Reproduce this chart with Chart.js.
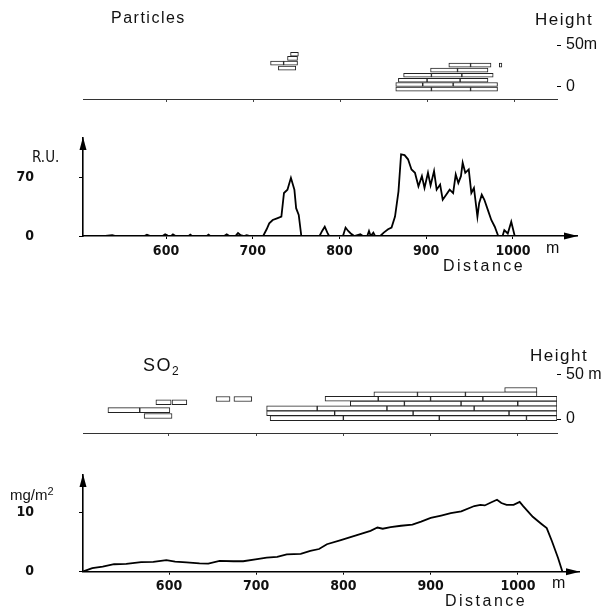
<!DOCTYPE html>
<html>
<head>
<meta charset="utf-8">
<script src="https://cdn.jsdelivr.net/npm/chart.js@4.4.1/dist/chart.umd.min.js"></script>
<style>
  body { margin: 0; background: #fff; }
  #page { position: relative; width: 610px; height: 609px; overflow: hidden;
          font-family: 'Liberation Sans', Arial, sans-serif; color: #111; }
  .box { position: absolute; left: 0; width: 610px; }
  .lbl { position: absolute; white-space: nowrap; line-height: 1; }
  .narrow { font-family: 'Liberation Sans Narrow', 'DejaVu Sans Condensed', 'Liberation Sans', sans-serif; }
</style>
</head>
<body>
<div id="page">
  <div class="box" style="top:0;height:110px"><canvas id="partStrip"></canvas></div>
  <div class="box" style="top:120px;height:160px"><canvas id="partChart"></canvas></div>
  <div class="box" style="top:340px;height:100px"><canvas id="so2Strip"></canvas></div>
  <div class="box" style="top:460px;height:149px"><canvas id="so2Chart"></canvas></div>

  <div class="lbl" style="left:111px;top:10px;font-size:16px;letter-spacing:1.5px">Particles</div>
  <div class="lbl" style="left:535px;top:11px;font-size:17px;letter-spacing:1.5px">Height</div>
  <div class="lbl narrow" style="left:32px;top:150px;font-size:15px">R.U.</div>
  <div class="lbl" style="left:546px;top:240px;font-size:16px">m</div>
  <div class="lbl" style="left:443px;top:258px;font-size:16px;letter-spacing:2.5px">Distance</div>

  <div class="lbl" style="left:143px;top:356px;font-size:18px;letter-spacing:1.5px">SO<sub style="font-size:12px;vertical-align:-4px">2</sub></div>
  <div class="lbl" style="left:530px;top:347px;font-size:17px;letter-spacing:1.5px">Height</div>
  <div class="lbl" style="left:10px;top:486px;font-size:15px">mg/m<sup style="font-size:11px;vertical-align:5px">2</sup></div>
  <div class="lbl" style="left:552px;top:575px;font-size:16px">m</div>
  <div class="lbl" style="left:445px;top:593px;font-size:16px;letter-spacing:2.5px">Distance</div>
</div>

<script>
const distTicks = [600, 700, 800, 900, 1000];

// particles (relative units) along the traverse, distance in m
const partDist = [505, 530, 538, 542, 575, 578, 582, 596, 599, 602, 606, 608, 611, 626, 628, 630,
  647, 649, 651, 667, 670, 673, 680, 683, 686, 690, 693, 697, 712, 716, 719, 723, 728, 733, 736,
  740, 744, 748, 750, 753, 756, 777, 780, 783, 786, 788, 804, 807, 810, 813, 817, 824, 827, 832,
  834, 836, 839, 841, 847, 851, 856, 860, 864, 868, 871, 875, 879, 883, 887, 891, 895, 898, 902,
  905, 909, 912, 916, 919, 923, 927, 931, 934, 937, 940, 942, 945, 949, 952, 955, 959, 961, 964,
  967, 971, 975, 979, 983, 988, 990, 994, 998, 1002, 1074];
const partVal = [0, 0, 1, 0, 0, 1.5, 0, 0, 2, 0.5, 0, 2, 0, 0, 1.5, 0,
  0, 1.5, 0, 0, 2, 0, 0, 3.5, 1, 0, 1, 0, 0, 8, 15, 19, 21, 23, 51,
  55, 69, 55, 33, 25, 0, 0, 6, 11, 4, 0, 0, 10, 6, 3, 0, 2, 0, 0,
  6, 0, 4, 0, 0, 4, 8, 10, 23, 53, 97, 96, 91, 79, 75, 59, 71, 57, 75,
  60, 77, 55, 61, 43, 49, 55, 51, 73, 63, 71, 87, 75, 79, 51, 57, 23, 39, 49,
  43, 31, 19, 11, 0, 0, 7, 3, 17, 0, 0];
const partYTicks = [0, 70];

// SO2 (mg/m2) along the traverse
const so2Dist = [501, 512, 524, 537, 551, 568, 582, 597, 607, 620, 635, 645, 658, 674, 685, 701,
  712, 724, 735, 751, 762, 772, 781, 797, 808, 820, 831, 839, 845, 854, 866, 879, 889, 900, 912,
  923, 935, 950, 957, 962, 969, 976, 981, 987, 995, 1002, 1006, 1017, 1027, 1033, 1039, 1046, 1051];
const so2Val = [0, 0.6, 0.85, 1.25, 1.3, 1.6, 1.65, 1.95, 1.7, 1.55, 1.4, 1.35, 1.8, 1.75, 1.75, 2.1,
  2.35, 2.5, 2.9, 3.0, 3.5, 3.8, 4.6, 5.3, 5.8, 6.35, 6.85, 7.4, 7.2, 7.45, 7.7, 7.9, 8.4, 9.0, 9.4,
  9.8, 10.1, 11.0, 11.2, 11.1, 11.6, 12.05, 11.5, 11.2, 11.2, 11.7, 11.0, 9.2, 8.0, 7.3, 5.1, 2.3, 0];
const so2YTicks = [0, 10];

// plume boxes in the height strips: start, end (m) and height (m)
const partBoxStart = [743, 739.5, 720, 735, 729,
  925, 950, 983, 904, 935, 873, 905, 940, 867, 900, 938, 864, 895, 930, 864, 905, 950];
const partBoxEnd = [752, 751, 735, 751, 749,
  950, 973.5, 986, 935, 970, 905, 940, 976, 900, 938, 970, 895, 930, 981, 905, 950, 981];
const partBoxHeight = [39, 34, 28.5, 28.5, 22.5,
  26, 26, 26, 20, 20, 14, 14, 14, 8, 8, 8, 3, 3, 3, -2.5, -2.5, -2.5];

const so2BoxStart = [585, 603.5, 530, 566.5, 571.5, 654, 674.5,
  985, 835, 885, 940, 779, 840, 900, 960, 808, 870, 935, 1000,
  712, 770, 850, 950, 712, 790, 880, 990, 716, 800, 910, 1010];
const so2BoxEnd = [602.5, 620.5, 566.5, 601, 603.5, 670, 695,
  1022, 885, 940, 1022, 840, 900, 960, 1045, 870, 935, 1000, 1045,
  770, 850, 950, 1045, 790, 880, 990, 1045, 800, 910, 1010, 1045];
const so2BoxHeight = [19, 19, 10, 10, 3.4, 22.7, 22.7,
  33, 28, 28, 28, 23, 23, 23, 23, 17.5, 17.5, 17.5, 17.5,
  12, 12, 12, 12, 6.5, 6.5, 6.5, 6.5, 1, 1, 1, 1];

const heightTicks = [0, 50];
const partHeightLabels = ['0', '50m'];
const so2HeightLabels = ['0', '50 m'];

const tickFont = { family: "'Liberation Sans Narrow', 'DejaVu Sans Condensed', 'Liberation Sans', sans-serif", weight: 'bold', size: 14 };
const plainFont = { family: "'Liberation Sans', Arial, sans-serif", size: 16 };

// arrow heads on the axis ends
const arrows = {
  id: 'arrows',
  afterDraw(chart, args, opts) {
    if (!opts.on) return;
    const { ctx, chartArea: a } = chart;
    ctx.save();
    ctx.fillStyle = '#000';
    ctx.beginPath();
    ctx.moveTo(a.left, a.top - 1);
    ctx.lineTo(a.left - 3.5, a.top + 12);
    ctx.lineTo(a.left + 3.5, a.top + 12);
    ctx.fill();
    ctx.beginPath();
    ctx.moveTo(a.right + 1, a.bottom);
    ctx.lineTo(a.right - 13, a.bottom - 3.5);
    ctx.lineTo(a.right - 13, a.bottom + 3.5);
    ctx.fill();
    ctx.restore();
  }
};
Chart.register(arrows);

function setTicks(vals) {
  return s => { s.ticks = vals.map(v => ({ value: v })); };
}

// fix the axis box so every panel shares the same plot edges
function fixBox(w, h) {
  return s => {
    if (w != null) s.width = w;
    if (h != null) s.height = h;
    s.paddingTop = 0; s.paddingBottom = 0;
    s.paddingLeft = 0; s.paddingRight = 0;
  };
}

function lineChart(id, dist, vals, yTicks, xr, yMax, padTop, xHeight, rightPad, labPad) {
  return new Chart(document.getElementById(id), {
    type: 'line',
    data: {
      datasets: [{
        data: dist.map((d, i) => ({ x: d, y: vals[i] })),
        borderColor: '#000',
        borderWidth: 1.8,
        pointRadius: 0,
        tension: 0
      }]
    },
    options: {
      responsive: true,
      maintainAspectRatio: false,
      animation: false,
      layout: { padding: { top: padTop, right: rightPad, left: 0, bottom: 0 } },
      plugins: { legend: { display: false }, tooltip: { enabled: false }, arrows: { on: true } },
      scales: {
        x: {
          type: 'linear', min: xr[0], max: xr[1],
          afterBuildTicks: setTicks(distTicks),
          afterFit: fixBox(null, xHeight),
          grid: { drawOnChartArea: false, tickLength: 3, color: '#000' },
          border: { color: '#000', width: 1.6 },
          ticks: { color: '#111', font: tickFont, padding: labPad, maxRotation: 0,
                   callback: v => String(v) }
        },
        y: {
          min: 0, max: yMax,
          afterBuildTicks: setTicks(yTicks),
          afterFit: fixBox(83, null),
          grid: { drawOnChartArea: false, tickLength: 4, color: '#000' },
          border: { color: '#000', width: 1.6 },
          ticks: { color: '#111', font: tickFont, padding: 45, callback: v => String(v) }
        }
      }
    }
  });
}

function stripChart(id, starts, ends, heights, labels, xr, yr, padTop, xHeight, thick) {
  return new Chart(document.getElementById(id), {
    type: 'bar',
    data: {
      datasets: [{
        data: starts.map((s, i) => ({ x: [s, ends[i]], y: heights[i] })),
        backgroundColor: '#fff',
        borderColor: '#222',
        borderWidth: 1,
        borderSkipped: false,
        barThickness: thick
      }]
    },
    options: {
      indexAxis: 'y',
      responsive: true,
      maintainAspectRatio: false,
      animation: false,
      layout: { padding: { top: padTop, left: 83, right: 0, bottom: 0 } },
      plugins: { legend: { display: false }, tooltip: { enabled: false } },
      scales: {
        x: {
          type: 'linear', min: xr[0], max: xr[1],
          afterBuildTicks: setTicks(distTicks),
          afterFit: fixBox(null, xHeight),
          grid: { drawOnChartArea: false, tickLength: 3, color: '#444' },
          border: { color: '#333', width: 1 },
          ticks: { display: false }
        },
        y: {
          type: 'linear', position: 'right', offset: false,
          min: yr[0], max: yr[1],
          afterBuildTicks: setTicks(heightTicks),
          afterFit: fixBox(53, null),
          grid: { drawOnChartArea: false, offset: false, tickLength: 4, color: '#000' },
          border: { display: false },
          ticks: { color: '#111', font: plainFont, padding: 5,
                   callback: v => labels[heightTicks.indexOf(v)] }
        }
      }
    }
  });
}

lineChart('partChart', partDist, partVal, partYTicks, [504.3, 1073.8], 116.3, 18, 44, 33, 4);
lineChart('so2Chart', so2Dist, so2Val, so2YTicks, [501.4, 1070], 16.2, 15, 37.3, 31, 3);
stripChart('partStrip', partBoxStart, partBoxEnd, partBoxHeight, partHeightLabels,
  [504.3, 1049.4], [-14.3, 91.7], 10, 11, 4);
stripChart('so2Strip', so2BoxStart, so2BoxEnd, so2BoxHeight, so2HeightLabels,
  [501.4, 1045], [-15.9, 78.4], 10, 7, 5);
</script>
</body>
</html>
